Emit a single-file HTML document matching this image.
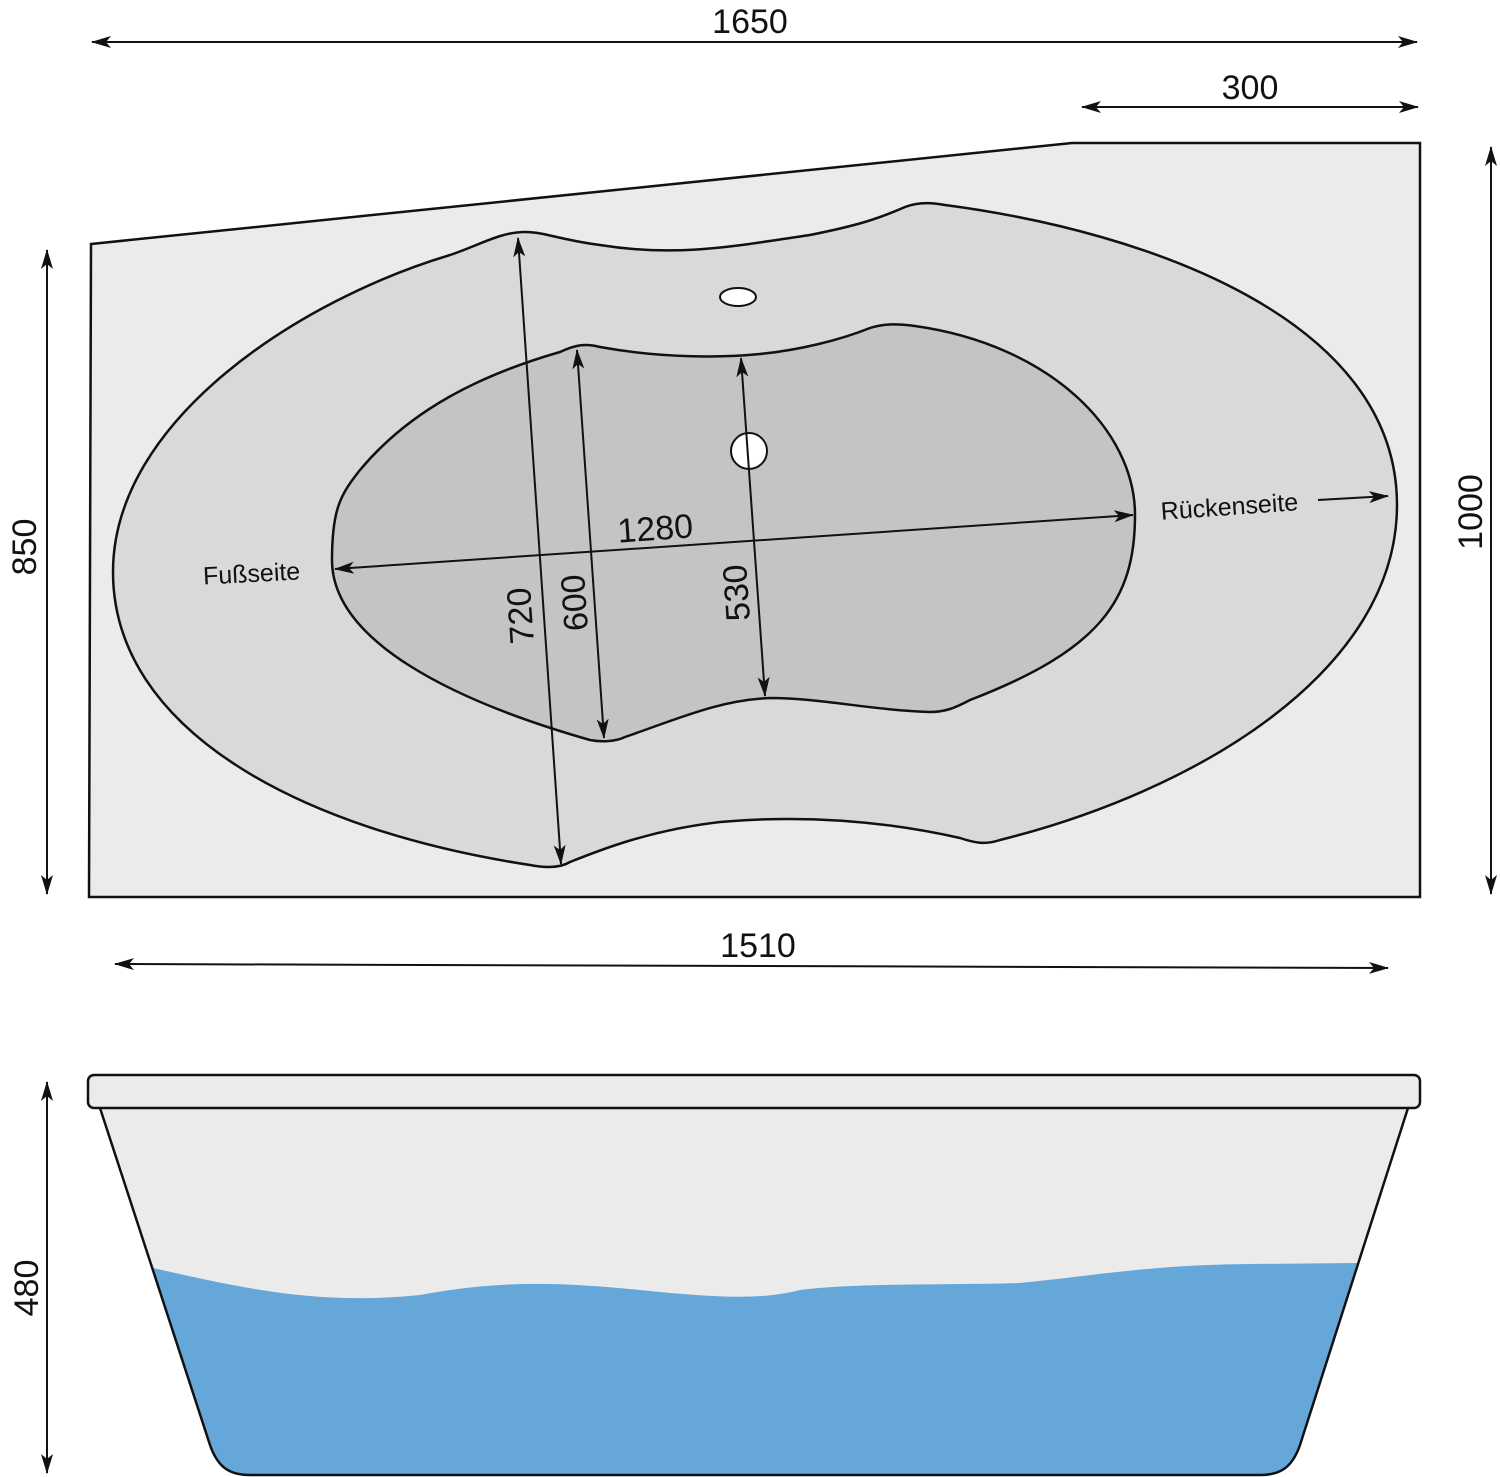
<!DOCTYPE html>
<html><head><meta charset="utf-8"><style>
html,body{margin:0;padding:0;background:#fff}
svg{display:block}
text{font-family:"Liberation Sans",sans-serif;fill:#111}
</style></head><body>
<svg width="1500" height="1477" viewBox="0 0 1500 1477" xmlns="http://www.w3.org/2000/svg">
<defs>
<marker id="a" viewBox="0 0 20 12" refX="19" refY="6" markerWidth="20" markerHeight="12" markerUnits="userSpaceOnUse" orient="auto-start-reverse">
<path d="M0,0 L20,6 L0,12 L5,6 Z" fill="#111"/></marker>
</defs>
<!-- top view outer -->
<path d="M91,244 L1072,143 L1420,143 L1420,897 L89,897 Z" fill="#ebebeb" stroke="#111" stroke-width="2.5"/>
<!-- rim -->
<path d="M113,572 C113,420 300,300 450,255 C480,245 500,232 525,232 C545,232 560,240 600,245 C680,258 740,245 810,235 C860,225 880,218 905,207 C920,201 935,203 945,205 C1150,232 1397,320 1397,505 C1397,670 1200,790 1000,840 C985,845 975,843 960,838 C880,820 800,815 720,822 C650,830 600,850 570,862 C560,868 545,868 530,865 C300,830 113,730 113,572 Z" fill="#d9d9d9" stroke="#111" stroke-width="2.5"/>
<!-- basin -->
<path d="M332,560 C332,510 340,495 360,470 C410,410 480,375 560,352 C575,345 585,343 600,347 C660,358 720,358 760,354 C800,350 840,340 870,328 C885,323 900,324 915,326 C1050,345 1135,430 1135,515 C1135,600 1100,650 970,700 C955,708 945,712 930,712 C870,710 820,698 770,698 C720,700 680,718 625,737 C615,742 600,742 590,740 C450,700 332,640 332,560 Z" fill="#c4c4c4" stroke="#111" stroke-width="2.5"/>
<!-- holes -->
<ellipse cx="738" cy="297" rx="18" ry="9" fill="#fff" stroke="#111" stroke-width="2"/>
<circle cx="749" cy="451" r="18" fill="#fff" stroke="#111" stroke-width="2"/>
<!-- dimension lines -->
<g stroke="#111" stroke-width="2" fill="none">
<line x1="92" y1="42" x2="1417" y2="42" marker-start="url(#a)" marker-end="url(#a)"/>
<line x1="1082" y1="107" x2="1418" y2="107" marker-start="url(#a)" marker-end="url(#a)"/>
<line x1="47" y1="250" x2="47" y2="894" marker-start="url(#a)" marker-end="url(#a)"/>
<line x1="1491" y1="147" x2="1491" y2="894" marker-start="url(#a)" marker-end="url(#a)"/>
<line x1="115" y1="964" x2="1388" y2="968" marker-start="url(#a)" marker-end="url(#a)"/>
<line x1="47" y1="1082" x2="47" y2="1473" marker-start="url(#a)" marker-end="url(#a)"/>
<line x1="335" y1="569" x2="1133" y2="515" marker-start="url(#a)" marker-end="url(#a)"/>
<line x1="518" y1="238" x2="561" y2="864" marker-start="url(#a)" marker-end="url(#a)"/>
<line x1="577" y1="350" x2="604" y2="738" marker-start="url(#a)" marker-end="url(#a)"/>
<line x1="741" y1="358" x2="765" y2="696" marker-start="url(#a)" marker-end="url(#a)"/>
<line x1="1318" y1="500" x2="1388" y2="496" marker-end="url(#a)"/>
</g>
<text x="750" y="33" font-size="34" text-anchor="middle">1650</text>
<text x="1250" y="99" font-size="34" text-anchor="middle">300</text>
<text x="758" y="957" font-size="34" text-anchor="middle">1510</text>
<text transform="translate(36,547) rotate(-90)" font-size="34" text-anchor="middle">850</text>
<text transform="translate(1482,512) rotate(-90)" font-size="34" text-anchor="middle">1000</text>
<text transform="translate(38,1288) rotate(-90)" font-size="34" text-anchor="middle">480</text>
<text transform="translate(656,540) rotate(-4)" font-size="34" text-anchor="middle">1280</text>
<text transform="translate(532,615) rotate(-94)" font-size="34" text-anchor="middle">720</text>
<text transform="translate(586,602) rotate(-94)" font-size="34" text-anchor="middle">600</text>
<text transform="translate(748,592) rotate(-94)" font-size="34" text-anchor="middle">530</text>
<text transform="translate(252,582) rotate(-3)" font-size="25" text-anchor="middle">Fußseite</text>
<text transform="translate(1230,515) rotate(-4)" font-size="25" text-anchor="middle">Rückenseite</text>
<!-- side view -->
<path d="M100,1108 L1408,1108 L1300,1445 C1292,1468 1280,1475 1260,1475 L250,1475 C230,1475 218,1468 210,1445 Z" fill="#ebebeb"/>
<path d="M153,1268 C250,1290 320,1305 420,1295 C500,1280 560,1282 640,1290 C720,1298 760,1300 800,1290 C850,1283 950,1285 1020,1283 C1100,1275 1150,1265 1250,1264 L1357,1263 L1300,1445 C1292,1468 1280,1475 1260,1475 L250,1475 C230,1475 218,1468 210,1445 Z" fill="#66a7da"/>
<path d="M100,1108 L210,1445 C218,1468 230,1475 250,1475 L1260,1475 C1280,1475 1292,1468 1300,1445 L1408,1108" fill="none" stroke="#111" stroke-width="2.5"/>
<rect x="88" y="1075" width="1332" height="33" rx="6" fill="#ebebeb" stroke="#111" stroke-width="2.5"/>
</svg>
</body></html>
